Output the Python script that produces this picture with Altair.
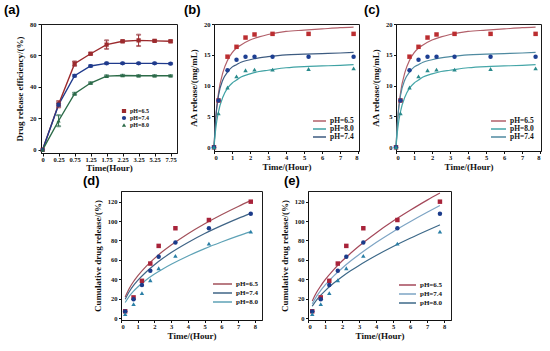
import json
import pandas as pd
import altair as alt

SERIES = ["pH=6.5", "pH=7.4", "pH=8.0"]

# ---------- panel (a) ----------
a_labels = ["0", "0.25", "0.75", "1.25", "1.75", "2.25", "3.25", "5.25", "7.75"]
a_ph65 = [0, 29, 54.8, 61.1, 66.9, 69.0, 69.6, 69.3, 69.0]
a_ph74 = [0, 28.7, 47.1, 53.3, 55.0, 55.0, 55.0, 55.0, 54.8]
a_ph80 = [0, 18.5, 35.7, 42.5, 46.9, 47.3, 47.1, 47.1, 47.1]
a_err65 = [0, 2.0, 1.4, 0.6, 2.7, 0.6, 3.6, 0.5, 0.6]
a_err74 = [0, 0.8, 0.6, 0.5, 0.5, 0.4, 0.4, 0.4, 0.4]
a_err80 = [0, 3.5, 0.6, 0.5, 0.5, 0.4, 0.4, 0.4, 0.4]

# ---------- panels (b) and (c) ----------
bc_t = [0, 0.25, 0.75, 1.25, 1.75, 2.25, 3.25, 5.25, 7.75]
bc_ph65 = [0, 7.6, 14.7, 16.3, 17.8, 18.3, 18.4, 18.4, 18.4]
bc_ph74 = [0, 7.6, 12.5, 14.2, 14.7, 14.7, 14.7, 14.7, 14.7]
bc_ph80 = [0, 5.5, 9.7, 11.5, 12.5, 12.6, 12.6, 12.7, 12.8]
bc_fit_t = [0, 0.1, 0.25, 0.5, 0.75, 1, 1.25, 1.5, 2, 2.5, 3, 4, 5, 6, 7, 7.75]
bc_fit65 = [0, 4.7, 8.8, 12.2, 14.1, 15.3, 16.1, 16.6, 17.4, 17.9, 18.3, 18.8, 19.0, 19.2, 19.4, 19.5]
bc_fit74 = [0, 4.9, 8.4, 11.0, 12.2, 13.0, 13.4, 13.8, 14.2, 14.5, 14.7, 15.0, 15.1, 15.2, 15.3, 15.4]
bc_fit80 = [0, 3.1, 5.8, 8.2, 9.6, 10.4, 10.9, 11.4, 11.9, 12.3, 12.5, 12.9, 13.1, 13.2, 13.3, 13.4]

# ---------- panels (d) and (e) ----------
de_t = [0.25, 0.75, 1.25, 1.75, 2.25, 3.25, 5.25, 7.75]
de_ph65 = [7.0, 21.3, 38.4, 56.2, 74.4, 92.6, 101.1, 120.0]
de_ph74 = [6.9, 19.5, 34.0, 48.7, 63.1, 77.8, 92.6, 107.6]
de_ph80 = [4.0, 14.4, 25.7, 39.0, 51.4, 64.1, 76.8, 89.1]
de_fit_t = [0.25, 0.5, 0.75, 1, 1.5, 2, 2.5, 3, 4, 5, 6, 7, 7.75]
d_fit65 = [21.8, 30.8, 37.7, 43.5, 53.3, 61.5, 68.8, 75.3, 87.0, 97.3, 106.6, 115.1, 121.1]
d_fit74 = [19.4, 27.4, 33.6, 38.8, 47.5, 55.0, 61.6, 67.6, 78.0, 87.2, 95.3, 102.8, 108.0]
d_fit80 = [16.0, 22.6, 27.7, 32.0, 39.2, 45.3, 50.6, 55.4, 64.0, 71.6, 78.4, 84.7, 89.1]
e_fit65 = [17.6, 26.3, 33.2, 39.3, 49.7, 58.8, 66.8, 74.3, 87.8, 100.0, 111.1, 121.6, 128.9]
e_fit74 = [14.7, 22.4, 28.5, 33.9, 43.2, 51.4, 58.8, 65.5, 77.9, 89.1, 99.3, 109.0, 116.0]
e_fit80 = [12.2, 18.5, 23.6, 28.1, 35.8, 42.6, 48.7, 54.3, 64.5, 73.8, 82.3, 90.3, 96.1]

SERIF = "Liberation Serif"
SHAPES = ["square", "circle", "triangle-up"]
PSER = ["p" + s for s in SERIES]   # point-layer keys (kept distinct from legend keys)
LSER = ["l" + s for s in SERIES]   # line-layer keys for panel (a)


def long_df(xs, series_vals, xname="t"):
    rows = []
    for s, ps, vals in zip(SERIES, PSER, series_vals):
        for x, v in zip(xs, vals):
            rows.append({xname: x, "series": s, "pser": ps, "val": v})
    return pd.DataFrame(rows)


def ptitle(txt, dx, off):
    return alt.TitleParams(txt, anchor="start", frame="group", dx=dx, offset=off,
                           font="Liberation Sans", fontWeight="bold", fontSize=13)


# ---------- build (a) ----------
rows = []
for s, ls, vals, errs in zip(SERIES, LSER, [a_ph65, a_ph74, a_ph80], [a_err65, a_err74, a_err80]):
    for i, (v, e) in enumerate(zip(vals, errs)):
        rows.append({"i": i, "series": s, "lser": ls, "val": v, "lo": v - e, "hi": v + e, "err": e})
a_df = pd.DataFrame(rows)
a_colors = ["#9c2a2d", "#1f3a8c", "#2c6b48"]
a_xscale = alt.Scale(domain=[-0.1, 8.4], nice=False, zero=False)
a_yscale = alt.Scale(domain=[-2, 80], nice=False, zero=False)
lab_expr = json.dumps(a_labels) + "[datum.value]"
a_xaxis = alt.Axis(values=list(range(9)), labelExpr=lab_expr, title="Time(Hour)",
                   tickSize=3, labelPadding=0.5, titlePadding=0)
a_yaxis = alt.Axis(values=[0, 20, 40, 60, 80], title="Drug release efficiency/(%)",
                   tickSize=3, labelPadding=2, titlePadding=5)
a_lscale = alt.Scale(domain=LSER, range=a_colors)
base_a = alt.Chart(a_df)
a_lines = base_a.mark_line(strokeWidth=1.4).encode(
    x=alt.X("i:Q", scale=a_xscale, axis=a_xaxis),
    y=alt.Y("val:Q", scale=a_yscale, axis=a_yaxis),
    stroke=alt.Stroke("lser:N", scale=a_lscale, legend=None),
)
a_err = base_a.transform_filter("datum.err > 0").mark_rule(strokeWidth=1).encode(
    x=alt.X("i:Q", scale=a_xscale, axis=a_xaxis),
    y=alt.Y("lo:Q", scale=a_yscale, axis=a_yaxis),
    y2="hi:Q",
    stroke=alt.Stroke("lser:N", scale=a_lscale, legend=None),
)
a_caps = []
for fld in ["lo", "hi"]:
    a_caps.append(base_a.transform_filter("datum.err > 0").mark_tick(thickness=1, size=4, orient="horizontal").encode(
        x=alt.X("i:Q", scale=a_xscale, axis=a_xaxis),
        y=alt.Y(f"{fld}:Q", scale=a_yscale, axis=a_yaxis),
        stroke=alt.Stroke("lser:N", scale=a_lscale, legend=None),
    ))
a_leg = alt.Legend(orient="none", legendX=80, legendY=83.75, title=None, labelFontSize=6,
                   labelFont=SERIF, labelFontWeight="bold", symbolSize=18, rowPadding=0,
                   clipHeight=6.5, labelOffset=3, padding=0)
a_pts = base_a.mark_point(filled=True, size=18, opacity=1).encode(
    x=alt.X("i:Q", scale=a_xscale, axis=a_xaxis),
    y=alt.Y("val:Q", scale=a_yscale, axis=a_yaxis),
    fill=alt.Fill("series:N", scale=alt.Scale(domain=SERIES, range=a_colors), legend=a_leg),
    shape=alt.Shape("series:N", scale=alt.Scale(domain=SERIES, range=SHAPES), legend=a_leg),
)
panel_a = alt.layer(a_lines, a_err, *a_caps, a_pts).properties(
    width=136, height=129, title=ptitle("(a)", -37, 4)
)


def curve_panel(pts_df, fit_df, leg_order, leg_colors, pt_colors, xdom, ydom, xvals, yvals,
                xtitle, ytitle, w, h, legx, legy, symlen, lfs, rowh, title, tdx, toff, sw=1.2):
    xs = alt.Scale(domain=xdom, nice=False, zero=False)
    ys = alt.Scale(domain=ydom, nice=False, zero=False)
    xa = alt.Axis(values=xvals, title=xtitle, tickSize=2.5, labelPadding=1, titlePadding=1)
    ya = alt.Axis(values=yvals, title=ytitle, tickSize=2.5, labelPadding=1.5, titlePadding=5)
    leg = alt.Legend(orient="none", legendX=legx, legendY=legy, title=None, symbolType="stroke",
                     symbolSize=symlen * symlen, symbolStrokeWidth=1.5, labelFontSize=lfs,
                     labelFont=SERIF, labelFontWeight="bold", rowPadding=0, clipHeight=rowh,
                     labelOffset=3, padding=0)
    lines = alt.Chart(fit_df).mark_line(strokeWidth=sw, interpolate="monotone").encode(
        x=alt.X("t:Q", scale=xs, axis=xa),
        y=alt.Y("val:Q", scale=ys, axis=ya),
        stroke=alt.Stroke("series:N", scale=alt.Scale(domain=leg_order, range=leg_colors),
                          sort=leg_order, legend=leg),
    )
    pts = alt.Chart(pts_df).mark_point(filled=True, size=20, opacity=1).encode(
        x=alt.X("t:Q", scale=xs, axis=xa),
        y=alt.Y("val:Q", scale=ys, axis=ya),
        fill=alt.Fill("pser:N", scale=alt.Scale(domain=PSER, range=pt_colors), legend=None),
        shape=alt.Shape("pser:N", scale=alt.Scale(domain=PSER, range=SHAPES), legend=None),
    )
    return alt.layer(lines, pts).properties(width=w, height=h, title=ptitle(title, tdx, toff))


bc_pts = long_df(bc_t, [bc_ph65, bc_ph74, bc_ph80])
bc_fit = long_df(bc_fit_t, [bc_fit65, bc_fit74, bc_fit80])
bc_order = ["pH=6.5", "pH=8.0", "pH=7.4"]
bc_pt_colors = ["#bb2d30", "#1d3f92", "#2a8a8c"]

panel_b = curve_panel(bc_pts, bc_fit, bc_order, ["#b2606a", "#3fa2a4", "#3d5b80"], bc_pt_colors,
                      [0, 8.05], [-0.6, 20], list(range(9)), [0, 5, 10, 15, 20],
                      "Time/(Hour)", "AA release/(mg/mL)", 145, 127, 98, 93.5, 13, 7.5, 7,
                      "(b)", -30, 4)
panel_c = curve_panel(bc_pts, bc_fit, bc_order, ["#b2606a", "#45a6a8", "#4f8aa0"], bc_pt_colors,
                      [0, 8.05], [-0.6, 20], list(range(9)), [0, 5, 10, 15, 20],
                      "Time/(Hour)", "AA release/(mg/mL)", 145, 127, 94, 93.5, 15, 7.5, 7,
                      "(c)", -32, 4)

de_pts = long_df(de_t, [de_ph65, de_ph74, de_ph80])
d_fit = long_df(de_fit_t, [d_fit65, d_fit74, d_fit80])
e_fit = long_df(de_fit_t, [e_fit65, e_fit74, e_fit80])
de_pt_colors = ["#a8233a", "#1b3b8a", "#2a7fa6"]

panel_d = curve_panel(de_pts, d_fit, SERIES, ["#a2505a", "#3f6486", "#5ea2b6"], de_pt_colors,
                      [0, 8.42], [-2, 131], list(range(9)), [0, 20, 40, 60, 80, 100, 120],
                      "Time/(Hour)", "Cumulative drug release/(%)", 141, 129, 91, 89.25, 19, 7, 7.5,
                      "(d)", -38, 3)
panel_e = curve_panel(de_pts, e_fit, SERIES, ["#a4485a", "#7da4c4", "#3c6888"], de_pt_colors,
                      [0, 8.4], [-2, 131], list(range(9)), [0, 20, 40, 60, 80, 100, 120],
                      "Time/(Hour)", "Cumulative drug release/(%)", 143, 129, 90, 90.25, 17, 7, 7.5,
                      "(e)", -24, 3)

spacer = alt.Chart(pd.DataFrame({"v": [0]}), view=alt.ViewBackground(stroke="transparent")).mark_point(
    opacity=0).encode(x=alt.X("v:Q", axis=None), y=alt.Y("v:Q", axis=None)).properties(width=34, height=20)

IND = dict(stroke="independent", fill="independent", shape="independent")

top = alt.hconcat(panel_a, panel_b, panel_c, spacing=37, bounds="flush").resolve_scale(**IND).resolve_legend(**IND)
bottom = alt.hconcat(spacer, panel_d, panel_e, spacing=46, bounds="flush").resolve_scale(**IND).resolve_legend(**IND)

chart = alt.vconcat(top, bottom, spacing=1).resolve_scale(**IND).resolve_legend(**IND).properties(
    padding={"left": 3, "top": 3, "right": 0, "bottom": 0}, background="white"
).configure_view(stroke="#1a1a1a", strokeWidth=1).configure_axis(
    labelFont=SERIF, labelFontWeight="bold", labelFontSize=6.5, labelColor="#111",
    titleFont=SERIF, titleFontWeight="bold", titleFontSize=9, titleColor="#111",
    tickColor="#111", domainColor="#111", grid=False
).configure_legend(labelColor="#111")

chart.save("out.html", embed_options={"renderer": "svg", "actions": False})
